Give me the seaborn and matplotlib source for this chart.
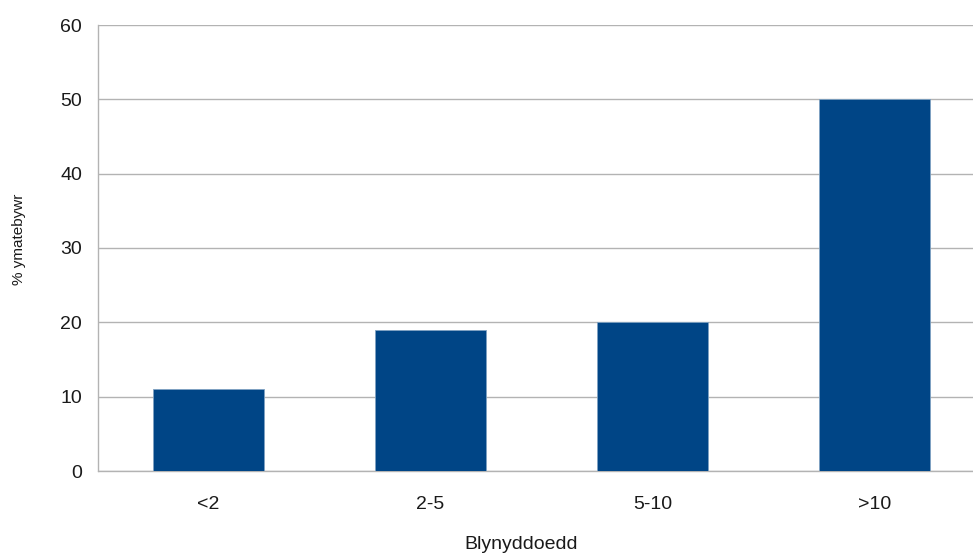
import matplotlib
matplotlib.use("Agg")
import matplotlib.pyplot as plt
import seaborn as sns
import pandas as pd

# ------------------------------------------------------------------ #
# Data
# ------------------------------------------------------------------ #
categories = ["<2", "2-5", "5-10", ">10"]
values = [11, 19, 20, 50]
y_ticks = [0, 10, 20, 30, 40, 50, 60]

df = pd.DataFrame({"cat": categories, "val": values})

sns.set_style("white")
plt.rcParams["font.family"] = ["Liberation Sans", "DejaVu Sans"]

fig = plt.figure(figsize=(9.73, 5.53), dpi=100)
ax = fig.add_axes([97.5 / 973, 82 / 553, 888 / 973, 446 / 553])

sns.barplot(data=df, x="cat", y="val", color="#004586", width=0.5,
            saturation=1, ax=ax, zorder=3)
for p in ax.patches:
    p.set_edgecolor("#7fa2c2")
    p.set_linewidth(0.6)

grid_c = "#b3b3b3"
text_c = "#1a1a1a"
ax.set_xlim(-0.5, len(categories) - 0.5)
ax.set_ylim(0, 60)
ax.set_yticks(y_ticks)
ax.yaxis.grid(True, color=grid_c, linewidth=1, zorder=0)
ax.set_axisbelow(True)

for s in ["top", "right", "bottom"]:
    ax.spines[s].set_visible(False)
ax.spines["left"].set_color(grid_c)
ax.spines["left"].set_linewidth(1)

ax.tick_params(axis="y", length=7.2, width=1, color=grid_c, labelsize=14,
               pad=4, labelcolor=text_c)
ax.tick_params(axis="x", length=0, labelsize=14, pad=18, labelcolor=text_c)
ax.set_xticks(range(len(categories)), categories)
ax.set_xticks([i - 0.5 for i in range(len(categories) + 1)], minor=True)
ax.tick_params(axis="x", which="minor", length=7.2, width=1, color=grid_c,
               direction="out")
ax.axhline(0, color=grid_c, linewidth=1, zorder=1, clip_on=False)

ax.set_xlabel("Blynyddoedd", fontsize=14, color=text_c)
ax.set_ylabel("% ymatebywr", fontsize=11, color=text_c)
ax.xaxis.set_label_coords(0.4775, -0.146)
ax.yaxis.set_label_coords(-0.080, 0.52)

plt.savefig("out.png", dpi=100)
plt.close()
